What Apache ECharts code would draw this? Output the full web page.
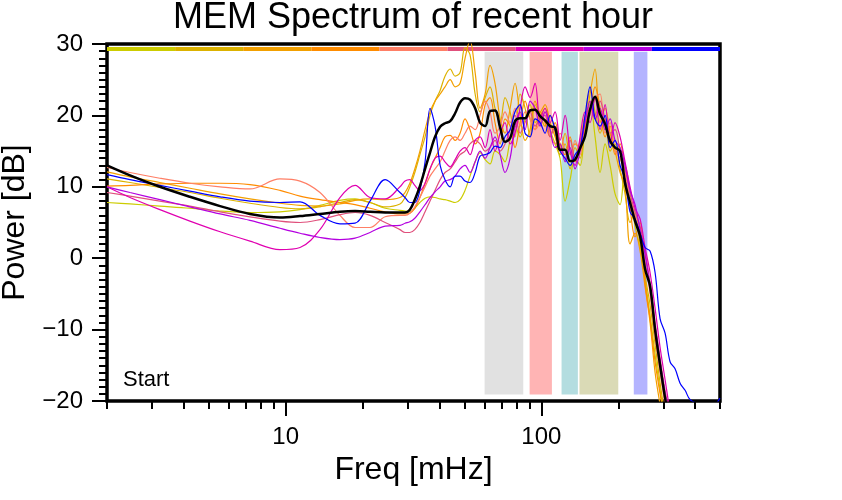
<!DOCTYPE html>
<html><head><meta charset="utf-8">
<script src="https://cdn.jsdelivr.net/npm/echarts/dist/echarts.min.js"></script>
<style>html,body{margin:0;padding:0;background:#fff}#c{width:842px;height:500px}</style>
</head><body><div id="c"></div>
<script>
// ---- data ----
const freqs = [2.0, 2.46, 3.22, 4.22, 5.54, 7.25, 9.5, 11.38, 13.62, 16.3, 18.68, 21.38, 24.5, 28.0,
  29.3, 30.6, 32.0, 33.5, 35.1, 36.7, 38.4, 40.2, 42.0, 44.0, 46.0, 48.1, 50.3, 52.6, 55.1, 57.6, 60.3, 63.0, 65.9, 69.0,
  72.1, 75.5, 78.9, 82.6, 86.4, 90.4, 94.5, 98.9, 103.4, 108.2, 113.2, 118.4, 123.9, 129.6, 135.5, 141.8,
  148.3, 155.1, 162.3, 169.8, 177.6, 185.8, 194.3, 203.3, 212.6, 222.4, 232.7, 243.4, 254.6, 266.3, 278.6, 291.5,
  304.9, 318.9, 333.6, 349.0, 365.1, 381.9, 418, 457, 500];

const meanPower = [13.0, 11.6, 10.0, 8.6, 7.3, 6.2, 5.7, 5.9, 6.2, 6.5, 6.6, 6.5, 6.4, 6.4,
  6.4, 6.8, 8.2, 10.1, 12.5, 14.8, 17.0, 18.4, 18.9, 19.2, 20.3, 21.8, 22.4, 22.2, 21.0, 19.0, 18.5, 20.6, 20.7, 18.3,
  16.3, 16.8, 19.2, 19.6, 19.6, 20.7, 20.8, 19.9, 19.3, 18.5, 18.3, 15.2, 15.2, 13.6, 13.8, 15.4,
  17.1, 20.8, 22.6, 20.2, 18.8, 16.4, 15.5, 15.0, 10.5, 7.8, 5.2, 3.1, -1.5, -3.9, -10.0, -15.0,
  -19.6, -23.5, null, null, null, null, null, null, null];

const hour1 = [7.8, 7.6, 7.3, 7.0, 6.6, 6.4, 6.5, 6.8, 7.4, 8.1, 8.3, 7.8, 7.0, 6.7,
  6.6, 6.5, 7.0, 7.8, 8.4, 8.6, 8.5, 8.3, 8.2, 8.0, 7.8, 8.2, 9.5, 11.5, 13.5, 14.8, 13.8, 13.2, 15.0, 14.5,
  13.5, 16.5, 18.5, 17.0, 19.5, 21.5, 19.0, 20.0, 21.0, 18.0, 16.0, 14.0, 8.0, 11.0, 14.0, 13.0,
  18.5, 22.0, 17.0, 12.0, 16.0, 13.0, 9.0, 7.5, 13.0, 9.5, 4.5, 1.5, -3.0, -8.0, -13.5, -18.5,
  -23.0, null, null, null, null, null, null, null, null];

const hour2 = [11.1, 10.6, 9.9, 9.2, 8.4, 7.7, 7.1, 6.9, 7.2, 7.8, 8.2, 7.8, 7.2, 7.6,
  8.5, 10.0, 12.0, 14.5, 17.0, 20.0, 22.0, 23.5, 25.5, 26.5, 25.5, 26.0, 29.5, 28.5, 23.0, 20.5, 22.5, 24.0, 21.0, 19.0,
  22.5, 20.5, 17.0, 23.0, 21.0, 17.0, 21.5, 20.0, 18.5, 20.0, 17.5, 14.5, 16.0, 12.5, 15.5, 14.0,
  19.0, 23.5, 20.5, 17.5, 19.5, 15.0, 16.0, 12.5, 9.0, 5.0, 6.5, 2.0, -2.5, -6.5, -12.0, -17.5,
  -22.0, null, null, null, null, null, null, null, null];

const hour3 = [12.1, 11.4, 10.6, 9.8, 9.0, 8.3, 7.7, 7.4, 7.3, 7.6, 8.1, 8.3, 8.2, 8.5,
  9.2, 10.5, 12.5, 15.0, 18.0, 20.5, 22.0, 23.0, 24.0, 25.0, 24.0, 24.5, 28.0, 30.5, 26.0, 21.0, 23.0, 27.0, 24.5, 19.5,
  17.5, 21.0, 24.5, 20.0, 16.5, 18.0, 22.0, 20.5, 21.5, 19.0, 17.0, 15.0, 17.5, 14.5, 16.0, 15.5,
  18.0, 23.0, 26.5, 19.0, 21.0, 17.5, 15.0, 12.0, 10.0, 2.0, 3.5, 1.0, -4.0, -9.0, -16.0, -20.5,
  -24.0, null, null, null, null, null, null, null, null];

const hour4 = [10.1, 10.2, 10.4, 10.5, 10.5, 10.3, 9.5, 8.7, 8.2, 7.8, 7.5, 7.0, 6.5, 6.2,
  6.2, 6.3, 7.0, 8.5, 10.5, 12.5, 14.0, 15.5, 17.0, 17.2, 16.5, 17.5, 19.5, 18.0, 16.0, 17.5, 21.5, 22.5, 19.0, 16.0,
  19.5, 18.5, 15.5, 19.0, 22.0, 19.5, 18.0, 20.5, 19.0, 17.0, 19.0, 16.0, 14.5, 17.0, 13.5, 16.0,
  20.0, 21.0, 24.0, 21.0, 17.0, 18.5, 14.5, 16.0, 12.0, 7.0, 3.0, 5.0, -3.5, -8.5, -14.5, -19.0,
  -23.0, null, null, null, null, null, null, null, null];

const hour5 = [12.7, 12.0, 11.2, 10.5, 10.0, 9.7, 11.1, 10.8, 9.2, 6.0, 4.3, 4.3, 5.8, 6.0,
  6.0, 6.3, 7.2, 8.5, 10.0, 11.5, 12.5, 13.5, 15.0, 16.5, 17.0, 16.5, 17.5, 18.5, 18.0, 20.0, 22.0, 20.5, 17.5, 18.5,
  20.5, 19.0, 21.0, 18.5, 20.5, 19.5, 18.0, 19.0, 20.5, 17.5, 16.0, 17.5, 15.0, 13.5, 16.5, 14.5,
  19.5, 20.0, 22.5, 23.0, 17.5, 19.0, 15.0, 14.0, 11.5, 8.5, 6.0, 3.5, -0.5, -5.0, -11.0, -16.0,
  -20.5, -24.0, null, null, null, null, null, null, null];

const hour6 = [9.2, 8.7, 8.0, 7.3, 6.5, 5.8, 5.2, 5.0, 5.4, 6.1, 6.4, 6.0, 5.0, 4.0,
  3.6, 3.6, 4.0, 5.0, 6.5, 8.0, 9.5, 11.0, 12.0, 12.5, 13.5, 14.5, 15.0, 16.0, 16.5, 16.0, 15.0, 15.5, 16.5, 15.0,
  16.0, 18.0, 20.0, 17.5, 19.0, 20.5, 18.5, 19.5, 20.0, 17.0, 18.5, 15.5, 14.0, 16.5, 14.0, 16.5,
  19.0, 21.5, 20.0, 22.0, 19.5, 17.5, 18.0, 15.0, 12.5, 9.0, 6.5, 4.5, 1.0, -3.5, -9.0, -14.0,
  -18.5, -22.0, null, null, null, null, null, null, null];

const hour7 = [10.0, 8.5, 6.8, 5.2, 3.7, 2.4, 1.2, 1.5, 4.0, 8.5, 10.2, 8.5, 8.3, 10.0,
  10.8, 11.0, 10.2, 9.5, 10.5, 12.5, 14.0, 14.3, 13.5, 12.8, 13.8, 15.0, 15.5, 14.5, 16.5, 17.0, 15.5, 18.0, 15.0, 17.5,
  19.0, 16.0, 17.5, 21.0, 24.0, 22.5, 24.5, 19.5, 21.0, 19.0, 20.5, 16.5, 20.0, 15.0, 13.0, 17.0,
  20.5, 19.0, 22.5, 18.0, 21.5, 16.0, 19.0, 17.0, 13.5, 10.0, 7.0, 5.5, 1.5, -2.0, -7.0, -12.5,
  -17.0, -21.5, -25.0, null, null, null, null, null, null];

const hour8 = [10.0, 9.2, 8.2, 7.2, 6.2, 5.3, 4.2, 3.5, 2.9, 2.6, 2.8, 3.6, 4.5, 4.6,
  4.9, 5.1, 5.6, 6.5, 7.5, 8.5, 9.3, 10.0, 10.8, 11.0, 11.5, 12.5, 13.0, 12.0, 13.5, 15.0, 14.0, 15.5, 17.0, 14.5,
  12.0, 14.0, 18.5, 20.5, 18.0, 22.0, 21.0, 18.5, 20.5, 18.0, 15.5, 16.0, 13.5, 15.5, 12.5, 15.0,
  19.0, 22.0, 19.5, 21.0, 18.0, 19.5, 16.5, 15.5, 13.0, 9.5, 7.5, 4.0, 0.5, -4.0, -9.5, -14.5,
  -19.0, -23.0, null, null, null, null, null, null, null];

const hour9 = [11.7, 11.0, 10.2, 9.4, 8.6, 8.0, 7.8, 7.9, 6.0, 4.8, 4.9, 8.0, 11.0, 9.2,
  8.5, 7.8, 7.8, 9.5, 13.5, 21.0, 18.5, 13.0, 11.0, 10.0, 11.5, 11.5, 10.8, 10.6, 12.0, 14.3, 14.5, 14.8, 15.7, 15.5,
  17.0, 18.0, 20.5, 21.5, 17.5, 17.0, 19.5, 19.0, 17.5, 20.0, 18.0, 15.0, 14.0, 13.0, 14.5, 15.5,
  20.0, 24.0, 19.5, 18.5, 20.0, 15.5, 16.5, 13.0, 11.0, 6.5, 5.5, 3.5, 1.5, 1.0, -2.0, -8.5,
  -10.5, -14.5, -15.5, -17.5, -18.5, -19.8, -20.5, -21.0, -19.6];

const hourSeries = [hour1, hour2, hour3, hour4, hour5, hour6, hour7, hour8, hour9];

// shaded frequency bands [fLow, fHigh] (mHz), and their vertical extent (dB)
const bandRanges = [[60, 85], [90, 110], [120, 139], [141, 200], [230, 260]];
const bandExtent = [-19.1, 28.9];

// axis ticks
const xMajorTicks = [10, 100];
const xMinorTicks = [2, 3, 4, 5, 6, 7, 8, 9, 20, 30, 40, 50, 60, 70, 80, 90, 200, 300, 400, 500];
const xRange = [2, 500];
const yRange = [-20, 30];

// ---- styles ----
const hourColors = ['#cccc00', '#dcb200', '#f2a000', '#ff8c00', '#ff7f66', '#e0507c', '#e000b0', '#b400e0', '#0000ff'];
const bandColors = ['#e1e1e1', '#ffb4b4', '#b4dde0', '#dadab6', '#b4b4ff'];
const FONT = 'Liberation Sans, Arial, Helvetica, sans-serif';

const chart = echarts.init(document.getElementById('c'), null, {renderer: 'canvas'});

// color bar segment edges, equally spaced along the (log) axis
const nSeg = hourColors.length;
const barEdges = [];
for (let k = 0; k <= nSeg; k++) barEdges.push(xRange[0] * Math.pow(xRange[1] / xRange[0], k / nSeg));

const series = [];
series.push({
  type: 'custom', z: 1, silent: true, clip: false,
  encode: {x: [0, 1], y: [2, 3]},
  data: bandRanges.map((r, i) => [r[0], r[1], bandExtent[0], bandExtent[1], i]),
  renderItem: function (params, api) {
    const a = api.coord([api.value(0), api.value(3)]);
    const b = api.coord([api.value(1), api.value(2)]);
    return {type: 'rect', shape: {x: a[0], y: a[1], width: b[0] - a[0], height: b[1] - a[1]},
      style: {fill: bandColors[api.value(4)]}};
  }
});
series.push({
  type: 'custom', z: 2, silent: true, clip: false,
  encode: {x: [0, 1], y: 2},
  data: hourColors.map((c, i) => [barEdges[i], barEdges[i + 1], yRange[1], i]),
  renderItem: function (params, api) {
    const a = api.coord([api.value(0), api.value(2)]);
    const b = api.coord([api.value(1), api.value(2)]);
    return {type: 'rect', shape: {x: a[0], y: a[1] + 3, width: b[0] - a[0], height: 4},
      style: {fill: hourColors[api.value(3)]}};
  }
});
hourSeries.forEach((vals, i) => {
  series.push({
    type: 'line', z: 3, showSymbol: false, smooth: 0.35, silent: true,
    data: freqs.map((f, j) => [f, vals[j]]),
    lineStyle: {width: 1.2, color: hourColors[i]},
    itemStyle: {color: hourColors[i]}
  });
});
series.push({
  type: 'line', z: 4, showSymbol: false, smooth: 0.35, silent: true,
  data: freqs.map((f, j) => [f, meanPower[j]]),
  lineStyle: {width: 2.5, color: '#000'},
  itemStyle: {color: '#000'}
});

chart.setOption({
  animation: false,
  backgroundColor: '#fff',
  title: {
    text: 'MEM Spectrum of recent hour', left: 413, top: 0, textAlign: 'center', padding: 0,
    textStyle: {fontSize: 36, fontWeight: 'normal', fontFamily: FONT, color: '#000'}
  },
  grid: {left: 107, right: 122, top: 44, bottom: 99, containLabel: false, outerBoundsMode: 'none',
    show: true, borderColor: '#000', borderWidth: 3.5, backgroundColor: 'transparent'},
  xAxis: [{
    type: 'log', logBase: 10, min: xRange[0], max: xRange[1], position: 'bottom',
    axisLine: {show: false, onZero: false}, splitLine: {show: false},
    axisTick: {show: true, length: 15, lineStyle: {color: '#000', width: 2}, customValues: xMajorTicks},
    axisLabel: {show: true, customValues: xMajorTicks, fontSize: 24, color: '#000', fontFamily: FONT, margin: 24},
    name: 'Freq [mHz]', nameLocation: 'middle', nameGap: 50,
    nameTextStyle: {fontSize: 32, color: '#000', fontFamily: FONT}
  }, {
    type: 'log', logBase: 10, min: xRange[0], max: xRange[1], position: 'bottom',
    axisLine: {show: false, onZero: false}, splitLine: {show: false},
    axisTick: {show: true, length: 8, lineStyle: {color: '#000', width: 2}, customValues: xMinorTicks},
    axisLabel: {show: false}
  }],
  yAxis: {
    type: 'value', min: yRange[0], max: yRange[1], interval: 10,
    axisLine: {show: false, onZero: false}, splitLine: {show: false},
    axisTick: {show: true, length: 15, lineStyle: {color: '#000', width: 2}},
    minorTick: {show: true, splitNumber: 10, length: 8, lineStyle: {color: '#000', width: 2}},
    minorSplitLine: {show: false},
    axisLabel: {fontSize: 24, color: '#000', fontFamily: FONT, margin: 24,
      formatter: v => (v < 0 ? '\u2212' + Math.abs(v) : String(v))},
    name: 'Power [dB]', nameLocation: 'middle', nameGap: 72,
    nameTextStyle: {fontSize: 32, color: '#000', fontFamily: FONT}
  },
  graphic: [{
    type: 'text', left: 123, top: 369,
    style: {text: 'Start', fontSize: 22, fontFamily: FONT, fill: '#000'}
  }],
  series: series
});
</script>
</body></html>
